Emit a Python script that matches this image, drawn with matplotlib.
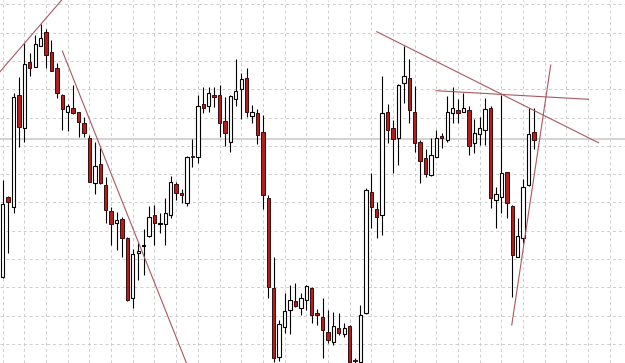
import numpy as np
import matplotlib
matplotlib.use("Agg")
import matplotlib.pyplot as plt

# candle data (index units / price points)
opens = [86.3, 166, 155.7, 268, 234.7, 300.7, 296.3, 317.3, 330.7, 311.3,
         294.7, 268, 251, 255.3, 250.7, 240.3, 225.3, 179.7, 198.7, 178,
         152, 139.7, 144, 124.7, 64.7, 110.3, 117, 126.7, 148, 139,
         139, 148, 178.7, 169.7, 159.7, 207, 206.3, 258.7, 257, 268,
         268, 242, 221.3, 264.3, 273.7, 284.7, 247.3, 249.7, 230.7, 164.7,
         74.7, 6.3, 36.3, 53, 62, 55.3, 63, 74.7, 50.3, 46.3,
         31.3, 20.7, 34.7, 28.7, 37, 3, 1.3, 49.7, 171.3, 153.7,
         148, 250.7, 234.7, 224.7, 279.7, 284.7, 250.7, 221.3, 204.7, 188,
         206.3, 227, 223, 249.7, 253, 251.3, 253, 219.7, 229, 233,
         255.3, 163, 166.3, 190.7, 157.3, 106.3, 124.7, 178, 230.7]
highs = [183, 167, 270.3, 286.3, 319.7, 309.7, 328, 339, 333.7, 323,
         299.7, 269, 259, 278, 251.3, 246.3, 228, 221.3, 214.7, 186.3,
         156.3, 151.3, 146.3, 126, 114, 120.5, 134.5, 156.7, 158, 150,
         164.7, 187, 181.3, 173.7, 207, 223.7, 268, 275.7, 275.7, 275.7,
         278, 266.3, 268, 303.7, 290.3, 294.7, 258, 253.7, 248, 168,
         106.3, 43, 69.7, 78, 79.7, 69.7, 78, 76, 53.7, 64.7,
         53, 51.3, 49.7, 40.3, 38, 5, 58, 175, 190.3, 161.3,
         287, 258.7, 243, 279, 317, 303.7, 277, 223, 213.7, 225,
         233, 229.7, 267, 275.7, 263.7, 270.3, 257, 244, 246.3, 265,
         257, 176.3, 268, 191, 158, 144.7, 183.7, 254.7, 254.7]
lows = [85.5, 110.3, 149.7, 216.3, 221.3, 287, 296, 317, 294.7, 292,
        264.7, 233, 232.3, 249, 226.3, 226.3, 181, 168.7, 179, 139.7,
        118, 113, 106.3, 62.5, 55.3, 83, 88, 126.5, 118, 130,
        118, 145, 163, 159.7, 157, 196.3, 199.7, 249.7, 251.3, 256.3,
        226.3, 217.3, 211.3, 257, 243.7, 245.7, 239.7, 219, 153.7, 64.7,
        1, 2, 29.7, 28.7, 56, 48, 53, 39.7, 38, 4.7,
        19.7, 18, 28, 26.3, -1, -1, 0, 49, 134.7, 124.7,
        128, 219.7, 189.7, 198, 259.7, 240.3, 211.3, 180, 186.3, 187,
        206, 214.7, 221.3, 239.7, 239.7, 251, 208, 209.7, 218, 218,
        155.5, 134.7, 149.7, 144.7, 66.3, 105.7, 119.7, 177, 214]
closes = [159, 161, 266.3, 236.3, 298.7, 294.7, 318.7, 325.3, 308, 292.3,
          269.7, 253.7, 257, 249.7, 241.3, 229.7, 181.3, 197, 179.7, 153,
          138.7, 143, 124.7, 63, 108.7, 112.3, 118, 146.3, 139.7, 140.5,
          149.7, 181.3, 170.3, 167.7, 206.3, 206, 257, 254.7, 269.7, 266.5,
          240.3, 230.3, 267, 272.3, 283.7, 251.3, 251.3, 228, 168, 76.3,
          4.7, 39, 52, 63, 57, 64.7, 77, 48, 48, 33,
          23, 37, 29.7, 35.3, 1.3, 2.5, 48, 173, 155.7, 146.3,
          249.7, 233, 223.7, 278, 287, 253, 219.7, 202.3, 189, 208,
          224.7, 224.7, 251.3, 255.3, 249.7, 255.3, 217.3, 230.3, 234.7, 253.7,
          164.7, 168.7, 189.7, 159.7, 108, 127.3, 176.3, 228.7, 223]

# hand drawn trendlines: (index, price) end points
trend_x = [[-0.5, 10.88], [11.0, 33.89], [69.0, 109.89], [79.94, 108.05], [93.91, 101.1]]
trend_y = [[291.3, 363], [312, 0], [331.3, 220.3], [272.3, 263.7], [38, 298]]
last_level = 223.7

o = np.array(opens)
h = np.array(highs)
l = np.array(lows)
c = np.array(closes)
idx = np.arange(len(o))
up = c >= o

fig = plt.figure(figsize=(6.25, 3.63), dpi=100)
ax = fig.add_axes([0, 0, 1, 1])
ax.set_xlim(-0.498, 114.8)
ax.set_ylim(0, 363)

# grid
ax.set_xticks(np.arange(0, 115, 4))
ax.set_yticks(19.2 + 28.28 * np.arange(13))
ax.grid(True, color='#cdcdcd', linestyle=(0, (3, 3)), linewidth=0.7)
ax.tick_params(length=0, labelleft=False, labelbottom=False)
for s in ax.spines.values():
    s.set_visible(False)
ax.set_axisbelow(True)

ax.axhline(last_level, color='#d0d0d0', lw=1.3, zorder=1)

# wicks
ax.vlines(idx, l, h, color='black', lw=0.8, zorder=2)

# bodies
bottom = np.minimum(o, c)
height = np.maximum(np.abs(c - o), 0.9)
ax.bar(idx[up], height[up], bottom=bottom[up], width=0.62,
       color='white', edgecolor='black', linewidth=0.8, zorder=3)
ax.bar(idx[~up], height[~up], bottom=bottom[~up], width=0.62,
       color='#b01e1e', edgecolor='#3a0c0c', linewidth=0.7, zorder=3)

for tx, ty in zip(trend_x, trend_y):
    ax.plot(tx, ty, color='#a85862', lw=0.8, zorder=4)

fig.savefig('out.png', dpi=100)
